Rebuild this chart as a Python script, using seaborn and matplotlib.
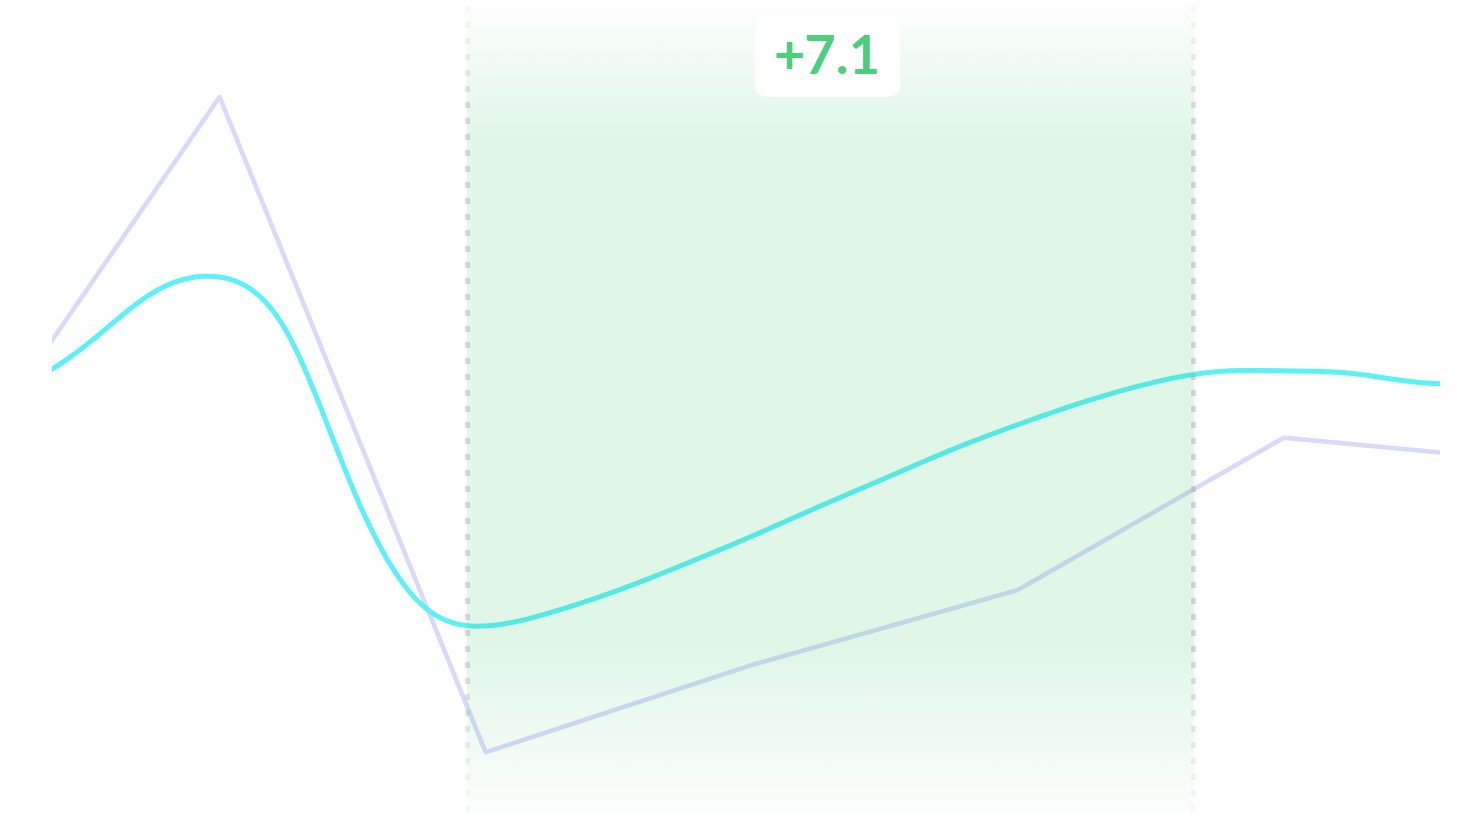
import numpy as np
import matplotlib
matplotlib.use("Agg")
import matplotlib.pyplot as plt
import seaborn as sns
from matplotlib.colors import to_rgb
from matplotlib.patches import FancyBboxPatch

# dados (escala 0-100)
INDICES = [0, 1, 2, 3, 4, 5, 6]
SERIE_LILAS = [40.7, 88.1, 7.7, 18.4, 27.6, 46.3, 43.2]
# série ciano: amostrada a cada quarto de passo
INDICES_CIANO = [i / 4 for i in range(25)]
SERIE_CIANO = [49.1, 52.5, 57.7, 64.1, 66.0, 59.4, 40.1, 26.1, 23.2, 24.9,
               27.6, 30.8, 34.2, 37.8, 41.3, 44.8, 47.9, 50.7, 53.0, 54.4,
               54.5, 54.2, 53.1, 52.8, 52.5]
INICIO_DESTAQUE = 1.93
FIM_DESTAQUE = 4.66
ROTULO = "+7.1"

COR_LILAS = "#6366f1"
COR_CIANO = "#5cf0f8"
COR_VERDE = "#22c55e"
COR_TEXTO = "#4ccf7d"


def curva_natural(xs, ys, passos=30):
    """Spline cúbica natural, só para desenhar a linha suavizada."""
    xs = np.asarray(xs, float)
    ys = np.asarray(ys, float)
    n = len(xs)
    h = np.diff(xs)
    A = np.zeros((n, n))
    r = np.zeros(n)
    A[0, 0] = A[-1, -1] = 1
    for i in range(1, n - 1):
        A[i, i - 1] = h[i - 1]
        A[i, i] = 2 * (h[i - 1] + h[i])
        A[i, i + 1] = h[i]
        r[i] = 6 * ((ys[i + 1] - ys[i]) / h[i] - (ys[i] - ys[i - 1]) / h[i - 1])
    M = np.linalg.solve(A, r)
    cx, cy = [], []
    for i in range(n - 1):
        x = np.linspace(xs[i], xs[i + 1], passos, endpoint=(i == n - 2))
        a = xs[i + 1] - x
        b = x - xs[i]
        hh = h[i]
        y = (M[i] * a**3 + M[i + 1] * b**3) / (6 * hh) \
            + (ys[i] / hh - M[i] * hh / 6) * a + (ys[i + 1] / hh - M[i + 1] * hh / 6) * b
        cx.append(x)
        cy.append(y)
    return np.concatenate(cx), np.concatenate(cy)


def perfil_alpha(frac):
    # frac: 0 no topo, 1 em baixo
    return np.interp(frac, [0.0, 0.16, 0.80, 1.0], [0.08, 1.0, 1.0, 0.12])


sns.set_style("white")
fig = plt.figure(figsize=(14.61, 8.15), dpi=100)
ax = fig.add_axes([52 / 1461, 0, (1440 - 52) / 1461, 1])
XLIM = (0.370, 5.587)
YLIM = (0, 100)

sns.lineplot(x=INDICES, y=SERIE_LILAS, ax=ax, color=COR_LILAS, alpha=0.24,
             linewidth=3.3, zorder=2, solid_joinstyle="round")
cx, cy = curva_natural(INDICES_CIANO, SERIE_CIANO)
sns.lineplot(x=cx, y=cy, ax=ax, color=COR_CIANO, linewidth=3.6, sort=False,
             estimator=None, zorder=2)

# faixa de destaque com gradiente vertical
y_top, y_bot = 99.4, 0.4
frac = np.linspace(0, 1, 300)
grad = np.zeros((300, 1, 4))
grad[:, 0, :3] = to_rgb(COR_VERDE)
grad[:, 0, 3] = 0.14 * perfil_alpha(frac)
ax.imshow(grad, extent=[INICIO_DESTAQUE, FIM_DESTAQUE, y_bot, y_top],
          aspect="auto", origin="upper", zorder=3, interpolation="bilinear")

# bordas pontilhadas
y_px = np.arange(9, 812, 16)
y_pts = (815 - y_px) / 8.15
cores = np.zeros((len(y_px), 4))
cores[:, :3] = to_rgb("#a09eb0")
cores[:, 3] = 0.38 * perfil_alpha(y_px / 815)
for xb in (INICIO_DESTAQUE, FIM_DESTAQUE):
    ax.scatter(np.full(len(y_pts), xb), y_pts, marker="s", s=13,
               c=cores, linewidths=0, zorder=4)

ax.set_xlim(*XLIM)
ax.set_ylim(*YLIM)
ax.axis("off")

# rótulo
caixa = FancyBboxPatch((755 / 1461, 1 - 97 / 815), 145 / 1461, 81 / 815,
                       boxstyle="round,pad=0,rounding_size=0.012",
                       transform=fig.transFigure, facecolor="white",
                       edgecolor="none", zorder=5)
fig.patches.append(caixa)
fig.text(827.5 / 1461, 1 - 58 / 815, ROTULO, color=COR_TEXTO, fontsize=39,
         fontweight="bold", family=["Lato", "DejaVu Sans"],
         ha="center", va="center", zorder=6)

fig.savefig("out.png", dpi=100)
